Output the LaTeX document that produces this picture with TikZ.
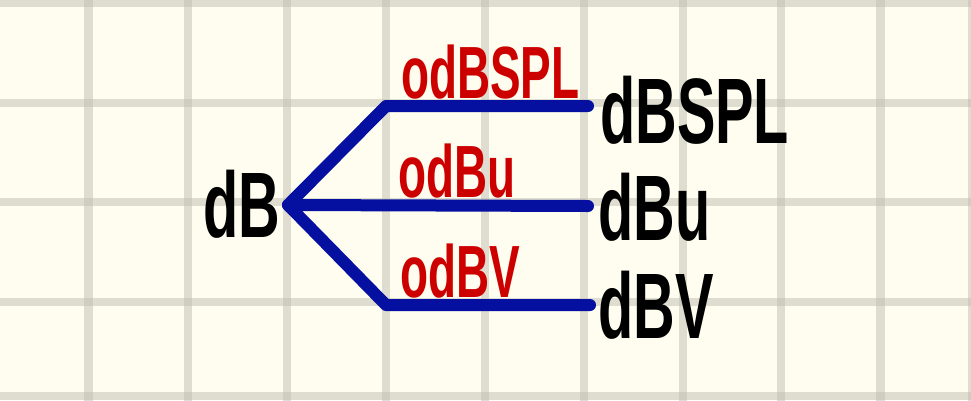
\documentclass[tikz,border=0pt]{standalone}
\usepackage{fontspec}
\newfontfamily\hand[FakeStretch=0.62]{Liberation Sans}
\definecolor{paper}{RGB}{254,253,239}
\definecolor{gridc}{RGB}{192,190,176}
\definecolor{wire}{RGB}{6,16,160}
\definecolor{redtxt}{RGB}{205,0,0}
\tikzset{
  gridline/.style={draw=gridc, line width=8.5pt, opacity=0.5},
  wireline/.style={draw=wire, line width=12pt, line cap=round, line join=round},
  bigtxt/.style={inner sep=0pt, anchor=base west, text=black, font=\hand\bfseries\fontsize{93}{96}\selectfont},
  redlbl/.style={inner sep=0pt, anchor=base west, text=redtxt, font=\hand\bfseries\fontsize{74}{76}\selectfont}
}
\begin{document}
\begin{tikzpicture}[x=1pt,y=-1pt]
\fill[paper] (0,0) rectangle (971,400);
\useasboundingbox (0,0) rectangle (971,400);
% grid
\foreach \gx in {88.5,188,287,386,485,584,683,781,880.5,972}
  \draw[gridline] (\gx,-10) -- (\gx,410);
\foreach \gy in {3,103,202,302,396}
  \draw[gridline] (-10,\gy) -- (981,\gy);
% connectors
\coordinate (j) at (288,205);
\coordinate (k1) at (386,106);
\coordinate (e1) at (588,106);
\coordinate (e2) at (588,206);
\coordinate (k3) at (386,305);
\coordinate (e3) at (590,305);
\draw[wireline] (e1) -- (k1) -- (j) -- (k3) -- (e3);
\draw[wireline] (j) -- (e2);
% texts
\node[bigtxt] (db) at (203,237) {dB};
\node[bigtxt] (dbspl) at (600,143) {dBSPL};
\node[bigtxt] (dbu) at (598,240) {dBu};
\node[bigtxt] (dbv) at (598,338) {dBV};
\node[redlbl] (odbspl) at (401,98) {odBSPL};
\node[redlbl] (odbu) at (398,197) {odBu};
\node[redlbl] (odbv) at (400,297) {odBV};
\end{tikzpicture}
\end{document}
